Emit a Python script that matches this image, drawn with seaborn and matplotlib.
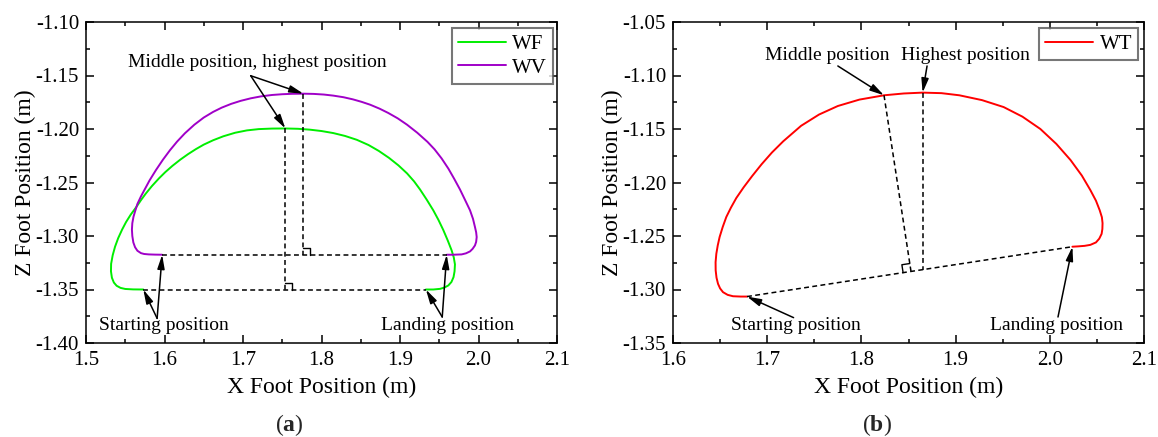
import matplotlib
matplotlib.use("Agg")
import matplotlib.pyplot as plt
import seaborn as sns
import numpy as np
import pandas as pd

# foot trajectories (x, z in m)
wf_x = [1.573, 1.560, 1.550, 1.544, 1.539, 1.5355, 1.533, 1.5318, 1.532, 1.534, 1.537, 1.541,
        1.546, 1.551, 1.557, 1.564, 1.570, 1.576, 1.584, 1.593, 1.601, 1.610, 1.620, 1.630,
        1.640, 1.650, 1.662, 1.675, 1.690, 1.705, 1.720, 1.737, 1.754, 1.770, 1.785, 1.800,
        1.815, 1.830, 1.845, 1.860, 1.873, 1.886, 1.898, 1.909, 1.918, 1.9255, 1.934, 1.9424,
        1.949, 1.9552, 1.961, 1.9658, 1.9685, 1.970, 1.9695, 1.9682, 1.9655, 1.9616, 1.9565,
        1.951, 1.9424, 1.933]
wf_z = [-1.350, -1.3499, -1.3495, -1.3485, -1.3465, -1.3435, -1.339, -1.333, -1.326, -1.318, -1.310, -1.302,
        -1.294, -1.287, -1.280, -1.273, -1.2665, -1.2605, -1.2533, -1.2461, -1.2403, -1.2345, -1.2287, -1.2235,
        -1.2188, -1.2146, -1.2105, -1.2068, -1.2035, -1.2013, -1.2001, -1.1996, -1.1995, -1.1998, -1.2006, -1.2019,
        -1.2038, -1.2065, -1.2101, -1.215, -1.2205, -1.227, -1.234, -1.2415, -1.249, -1.2565, -1.266, -1.276,
        -1.285, -1.2945, -1.3045, -1.3135, -1.320, -1.3265, -1.333, -1.3384, -1.343, -1.3462, -1.3482,
        -1.3494, -1.350, -1.350]

wv_x = [1.597, 1.588, 1.580, 1.574, 1.570, 1.5655, 1.5625, 1.5603, 1.559, 1.5585, 1.559, 1.5605,
        1.5625, 1.5655, 1.570, 1.5755, 1.581, 1.589, 1.598, 1.607, 1.616, 1.626, 1.638, 1.650,
        1.662, 1.673, 1.685, 1.697, 1.710, 1.723, 1.737, 1.750, 1.763, 1.777, 1.790, 1.803,
        1.815, 1.828, 1.840, 1.851, 1.862, 1.874, 1.885, 1.897, 1.909, 1.922, 1.935, 1.944,
        1.953, 1.9616, 1.969, 1.9764, 1.983, 1.9892, 1.993, 1.9955, 1.997, 1.9977, 1.997, 1.9955,
        1.9925, 1.9892, 1.984, 1.9785, 1.9679, 1.9595]
wv_z = [-1.3175, -1.3174, -1.3172, -1.3168, -1.316, -1.3138, -1.3105, -1.306, -1.300, -1.294, -1.288, -1.282,
        -1.277, -1.270, -1.263, -1.2555, -1.248, -1.2385, -1.2287, -1.2198, -1.2118, -1.204, -1.196, -1.1893,
        -1.184, -1.180, -1.1765, -1.1737, -1.1713, -1.1695, -1.1682, -1.1675, -1.1671, -1.167, -1.1672, -1.1678,
        -1.1688, -1.1703, -1.1723, -1.1746, -1.1773, -1.181, -1.185, -1.190, -1.196, -1.2035, -1.212, -1.219,
        -1.2275, -1.237, -1.2465, -1.2565, -1.2665, -1.276, -1.284, -1.2916, -1.2965, -1.301, -1.3055, -1.3088,
        -1.312, -1.3144, -1.3162, -1.3172, -1.3175, -1.3175]

wt_x = [1.6786, 1.672, 1.6637, 1.658, 1.6531, 1.650, 1.6478, 1.6462, 1.6453, 1.6452, 1.646, 1.6475,
        1.6495, 1.6528, 1.6566, 1.6615, 1.6672, 1.675, 1.684, 1.694, 1.705, 1.717, 1.736, 1.755,
        1.775, 1.798, 1.824, 1.845, 1.865, 1.885, 1.904, 1.928, 1.951, 1.971, 1.990, 2.007,
        2.022, 2.034, 2.043, 2.049, 2.053, 2.0553, 2.056, 2.0558, 2.055, 2.0525, 2.049, 2.043,
        2.037, 2.030, 2.024]
wt_z = [-1.3066, -1.3066, -1.3063, -1.305, -1.3025, -1.299, -1.2947, -1.289, -1.2822, -1.2745, -1.2666, -1.2588,
        -1.2509, -1.2415, -1.2322, -1.2235, -1.2145, -1.2045, -1.194, -1.183, -1.172, -1.1615, -1.147, -1.1365,
        -1.1285, -1.1225, -1.1185, -1.1168, -1.116, -1.1165, -1.1185, -1.123, -1.1295, -1.1385, -1.150, -1.164,
        -1.179, -1.1935, -1.207, -1.217, -1.226, -1.2325, -1.238, -1.2435, -1.248, -1.2525, -1.256, -1.2583,
        -1.2592, -1.2597, -1.260]

# key points
wf_peak = (1.754, -1.1995)
wv_peak = (1.777, -1.167)
wt_mid = (1.824, -1.1185)
wt_high = (1.865, -1.116)

GREEN = "#00ee00"
PURPLE = "#a000c8"
RED = "#ff0000"

sns.set_theme(style="ticks")
plt.rcParams["font.family"] = ["Liberation Serif", "DejaVu Serif"]
plt.rcParams["mathtext.fontset"] = "custom"
plt.rcParams["mathtext.rm"] = "Liberation Serif"
plt.rcParams["mathtext.bf"] = "Liberation Serif:bold"
plt.rcParams["axes.unicode_minus"] = False

fig = plt.figure(figsize=(11.58, 4.37), dpi=100)
W, H = 1158, 437
ax1 = fig.add_axes([86 / W, 94 / H, 471 / W, 321 / H])
ax2 = fig.add_axes([673 / W, 94 / H, 471 / W, 321 / H])

dash = (0, (3.2, 2.2))
arrow = dict(arrowstyle="-|>,head_length=0.7,head_width=0.18", color="black",
             lw=1.1, shrinkA=0, shrinkB=0)


def style_axes(ax, xlim, ylim):
    ax.set_xlim(*xlim)
    ax.set_ylim(*ylim)
    ax.set_xticks(np.arange(xlim[0], xlim[1] + 0.001, 0.1))
    ax.set_yticks(np.arange(ylim[0], ylim[1] + 0.001, 0.05))
    ax.xaxis.set_major_formatter(matplotlib.ticker.FormatStrFormatter("%.1f"))
    ax.yaxis.set_major_formatter(matplotlib.ticker.FormatStrFormatter("%.2f"))
    ax.xaxis.set_minor_locator(matplotlib.ticker.AutoMinorLocator(2))
    ax.yaxis.set_minor_locator(matplotlib.ticker.AutoMinorLocator(2))
    ax.tick_params(which="both", direction="in", top=True, right=True, width=1.1,
                   color="black", labelsize=15, labelcolor="black")
    ax.tick_params(which="major", length=6)
    ax.tick_params(which="minor", length=3)
    ax.tick_params(axis="x", pad=6)
    ax.tick_params(axis="y", pad=5)
    for s in ax.spines.values():
        s.set_color("black")
        s.set_linewidth(1.1)


def set_labels(ax):
    ax.set_xlabel("X Foot Position (m)", fontsize=17, color="black")
    ax.set_ylabel("Z Foot Position (m)", fontsize=17, color="black")
    ax.xaxis.set_label_coords(0.5, -(387 - 343) / 321)
    ax.xaxis.label.set_va("center")
    ax.yaxis.set_label_coords(-0.128, 0.5)
    ax.yaxis.label.set_va("center")


def right_angle(ax, corner, d1, d2, size=7):
    # small square drawn in pixel space at the foot of a perpendicular
    c = ax.transData.transform(corner)
    d1 = np.asarray(d1, float) / np.linalg.norm(d1)
    d2 = np.asarray(d2, float) / np.linalg.norm(d2)
    pts = np.array([c + size * d1, c + size * (d1 + d2), c + size * d2])
    pts = ax.transData.inverted().transform(pts)
    ax.plot(pts[:, 0], pts[:, 1], color="black", lw=1.0)


def style_legend(leg):
    leg.get_frame().set_edgecolor("#555555")
    leg.get_frame().set_linewidth(1.5)
    for t in leg.get_texts():
        t.set_color("black")


# ---------------- (a) ----------------
style_axes(ax1, (1.5, 2.1), (-1.40, -1.10))
df_a = pd.DataFrame({"x": wf_x + wv_x, "z": wf_z + wv_z,
                     "gait": ["WF"] * len(wf_x) + ["WV"] * len(wv_x)})
sns.lineplot(data=df_a, x="x", y="z", hue="gait", palette={"WF": GREEN, "WV": PURPLE},
             sort=False, estimator=None, lw=1.4, ax=ax1)
set_labels(ax1)

# dashed helper lines
ax1.plot([wf_x[0], wf_x[-1]], [wf_z[0], wf_z[-1]], color="black", lw=1.1, ls=dash)
ax1.plot([wv_x[0], wv_x[-1]], [wv_z[0], wv_z[-1]], color="black", lw=1.1, ls=dash)
ax1.plot([wf_peak[0], wf_peak[0]], [wf_peak[1], wf_z[0]], color="black", lw=1.1, ls=dash)
ax1.plot([wv_peak[0], wv_peak[0]], [wv_peak[1], wv_z[0]], color="black", lw=1.1, ls=dash)
right_angle(ax1, (wf_peak[0], wf_z[0]), (1, 0), (0, 1))
right_angle(ax1, (wv_peak[0], wv_z[0]), (1, 0), (0, 1))

ax1.text(1.718, -1.1374, "Middle position, highest position", fontsize=14,
         ha="center", va="center", color="black")
ax1.annotate("", xy=wv_peak, xytext=(1.7098, -1.1502), arrowprops=arrow)
ax1.annotate("", xy=wf_peak, xytext=(1.7098, -1.1502), arrowprops=arrow)
ax1.text(1.599, -1.3835, "Starting position", fontsize=14, ha="center", va="center", color="black")
ax1.annotate("", xy=(wf_x[0], wf_z[0]), xytext=(1.5906, -1.377), arrowprops=arrow)
ax1.annotate("", xy=(wv_x[0], wv_z[0]), xytext=(1.5906, -1.377), arrowprops=arrow)
ax1.text(1.961, -1.3835, "Landing position", fontsize=14, ha="center", va="center", color="black")
ax1.annotate("", xy=(wf_x[-1], wf_z[-1]), xytext=(1.9538, -1.3757), arrowprops=arrow)
ax1.annotate("", xy=(wv_x[-1], wv_z[-1]), xytext=(1.9538, -1.3757), arrowprops=arrow)

leg1 = ax1.legend(loc="upper right", bbox_to_anchor=(0.992, 0.981), borderaxespad=0,
                  fontsize=15, frameon=True, fancybox=False, handlelength=2.3,
                  handletextpad=0.3, labelspacing=0.2, borderpad=0.3)
style_legend(leg1)

# ---------------- (b) ----------------
style_axes(ax2, (1.6, 2.1), (-1.35, -1.05))
df_b = pd.DataFrame({"x": wt_x, "z": wt_z})
sns.lineplot(data=df_b, x="x", y="z", sort=False, estimator=None, color=RED, lw=1.4,
             ax=ax2, label="WT")
set_labels(ax2)

start = (wt_x[0], wt_z[0])
land = (wt_x[-1], wt_z[-1])
ax2.plot([start[0], land[0]], [start[1], land[1]], color="black", lw=1.1, ls=dash)

# foot of perpendicular from the middle point, in pixel space
ps = ax2.transData.transform(start)
pl = ax2.transData.transform(land)
pm = ax2.transData.transform(wt_mid)
u = (pl - ps) / np.linalg.norm(pl - ps)
foot_px = ps + np.dot(pm - ps, u) * u
foot = ax2.transData.inverted().transform(foot_px)
ax2.plot([wt_mid[0], foot[0]], [wt_mid[1], foot[1]], color="black", lw=1.1, ls=dash)
slope = (land[1] - start[1]) / (land[0] - start[0])
base_high = start[1] + slope * (wt_high[0] - start[0])
ax2.plot([wt_high[0], wt_high[0]], [wt_high[1], base_high], color="black", lw=1.1, ls=dash)
right_angle(ax2, foot, -u, pm - foot_px, size=8)

ax2.text(1.7638, -1.0811, "Middle position", fontsize=14, ha="center", va="center", color="black")
ax2.annotate("", xy=wt_mid, xytext=(1.775, -1.0911), arrowprops=arrow)
ax2.text(1.9109, -1.0811, "Highest position", fontsize=14, ha="center", va="center", color="black")
ax2.annotate("", xy=wt_high, xytext=(1.8697, -1.0911), arrowprops=arrow)
ax2.text(1.730, -1.3335, "Starting position", fontsize=14, ha="center", va="center", color="black")
ax2.annotate("", xy=start, xytext=(1.728, -1.3263), arrowprops=arrow)
ax2.text(2.0068, -1.3335, "Landing position", fontsize=14, ha="center", va="center", color="black")
ax2.annotate("", xy=land, xytext=(2.0087, -1.3257), arrowprops=arrow)

leg2 = ax2.legend(loc="upper right", bbox_to_anchor=(0.988, 0.981), borderaxespad=0,
                  fontsize=15, frameon=True, fancybox=False, handlelength=2.3,
                  handletextpad=0.3, borderpad=0.3)
style_legend(leg2)

fig.text(289 / W, 1 - 425 / H, r"($\mathbf{a}$)", fontsize=17, ha="center", va="center")
fig.text(877 / W, 1 - 425 / H, r"($\mathbf{b}$)", fontsize=17, ha="center", va="center")

fig.savefig("out.png", dpi=100, facecolor="white")
